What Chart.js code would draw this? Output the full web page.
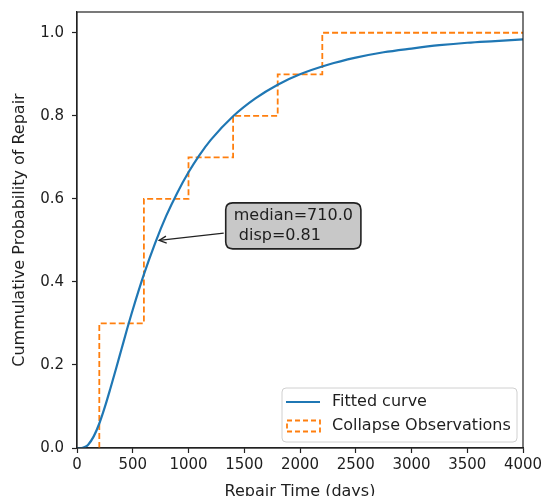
<!DOCTYPE html>
<html>
<head>
<meta charset="utf-8">
<script src="https://cdn.jsdelivr.net/npm/chart.js@4.4.0/dist/chart.umd.min.js"></script>
<style>
  html, body { margin: 0; padding: 0; background: #fff; }
  #wrap { width: 545px; height: 496px; }
</style>
</head>
<body>
<div id="wrap"><canvas id="c" width="545" height="496"></canvas></div>
<script>
// ---- data ----
const fitTimes = [0, 25, 50, 75, 100, 150, 200, 250, 300, 350, 400, 450, 500, 600, 700, 800, 900, 1000, 1100, 1200, 1400, 1600, 1800, 2000, 2250, 2500, 2750, 3000, 3250, 3500, 3750, 4000];
const fitProb  = [0, 0.000, 0.0005, 0.003, 0.008, 0.028, 0.059, 0.099, 0.144, 0.191, 0.239, 0.287, 0.333, 0.418, 0.493, 0.559, 0.615, 0.664, 0.706, 0.742, 0.799, 0.842, 0.875, 0.900, 0.923, 0.940, 0.953, 0.962, 0.970, 0.976, 0.980, 0.984];
const obsTimes = [200, 600, 1000, 1400, 1800, 2200];
const obsProb  = [0.3, 0.6, 0.7, 0.8, 0.9, 1.0];
const xTicks = [0, 500, 1000, 1500, 2000, 2500, 3000, 3500, 4000];
const yTicks = [0.0, 0.2, 0.4, 0.6, 0.8, 1.0];
const seriesLabels = ['Fitted curve', 'Collapse Observations'];
const annoLines = ['median=710.0', ' disp=0.81'];
const annoPoint = [710, 0.5];
const annoTextAt = [1940, 0.535];
const xMax = 4000, yMax = 1.05;

// ---- build datasets ----
const fitData = fitTimes.map((t, i) => ({ x: t, y: fitProb[i] }));
const obsData = [];
let prev = 0;
obsTimes.forEach((t, i) => {
  obsData.push({ x: t, y: prev });
  obsData.push({ x: t, y: obsProb[i] });
  prev = obsProb[i];
});
obsData.push({ x: xMax, y: prev });

const BLUE = '#1f77b4', ORANGE = '#ff7f0e', TXT = '#1e1e1e';
const FONT = '"DejaVu Sans", sans-serif';

const bgPlugin = {
  id: 'bg',
  beforeDraw(chart) {
    const ctx = chart.ctx;
    ctx.save(); ctx.fillStyle = '#fff'; ctx.fillRect(0, 0, chart.width, chart.height); ctx.restore();
  }
};

function roundRect(ctx, x, y, w, h, r) {
  ctx.beginPath();
  ctx.moveTo(x + r, y);
  ctx.lineTo(x + w - r, y); ctx.quadraticCurveTo(x + w, y, x + w, y + r);
  ctx.lineTo(x + w, y + h - r); ctx.quadraticCurveTo(x + w, y + h, x + w - r, y + h);
  ctx.lineTo(x + r, y + h); ctx.quadraticCurveTo(x, y + h, x, y + h - r);
  ctx.lineTo(x, y + r); ctx.quadraticCurveTo(x, y, x + r, y);
  ctx.closePath();
}

const overlayPlugin = {
  id: 'overlay',
  afterDraw(chart) {
    const ctx = chart.ctx;
    const a = chart.chartArea;
    const xs = chart.scales.x, ys = chart.scales.y;
    ctx.save();
    // spines
    ctx.strokeStyle = '#222'; ctx.lineWidth = 1.2;
    ctx.strokeRect(a.left, a.top, a.right - a.left, a.bottom - a.top);

    // annotation
    ctx.font = '16px ' + FONT;
    const cx = xs.getPixelForValue(annoTextAt[0]);
    const cy = ys.getPixelForValue(annoTextAt[1]);
    const lh = 20;
    const tw = Math.max(...annoLines.map(l => ctx.measureText(l).width));
    const bw = tw + 16, bh = lh * annoLines.length + 6;
    const bx = cx - bw / 2, by = cy - bh / 2;
    const px = xs.getPixelForValue(annoPoint[0]);
    const py = ys.getPixelForValue(annoPoint[1]);
    // arrow from box edge to point
    const sx = bx - 2;
    const sy = cy + (py - cy) * (cx - sx) / (cx - px);
    ctx.strokeStyle = '#222'; ctx.lineWidth = 1.3;
    ctx.beginPath(); ctx.moveTo(sx, sy); ctx.lineTo(px + 3, py); ctx.stroke();
    const ang = Math.atan2(py - sy, px + 3 - sx);
    const hl = 8, hw = 0.45;
    ctx.beginPath();
    ctx.moveTo(px + 3 - hl * Math.cos(ang - hw), py - hl * Math.sin(ang - hw));
    ctx.lineTo(px + 3, py);
    ctx.lineTo(px + 3 - hl * Math.cos(ang + hw), py - hl * Math.sin(ang + hw));
    ctx.stroke();
    // box
    roundRect(ctx, bx, by, bw, bh, 7);
    ctx.fillStyle = '#c8c8c8'; ctx.fill();
    ctx.strokeStyle = '#222'; ctx.lineWidth = 1.6; ctx.stroke();
    ctx.fillStyle = TXT; ctx.textAlign = 'left'; ctx.textBaseline = 'middle';
    annoLines.forEach((l, i) => ctx.fillText(l, bx + 8, by + 3 + lh * (i + 0.5)));

    // legend
    ctx.font = '16px ' + FONT;
    const lw = 235, lhh = 54;
    const lx = a.right - 6 - lw, ly = a.bottom - 6 - lhh;
    roundRect(ctx, lx, ly, lw, lhh, 4);
    ctx.fillStyle = 'rgba(255,255,255,0.85)'; ctx.fill();
    ctx.strokeStyle = '#d0d0d0'; ctx.lineWidth = 1; ctx.stroke();
    const r1 = ly + 14, r2 = ly + 38;
    ctx.strokeStyle = BLUE; ctx.lineWidth = 2.2;
    ctx.beginPath(); ctx.moveTo(lx + 4, r1); ctx.lineTo(lx + 38, r1); ctx.stroke();
    ctx.strokeStyle = ORANGE; ctx.lineWidth = 1.8; ctx.setLineDash([5, 3]);
    ctx.strokeRect(lx + 5, r2 - 5.5, 33, 11);
    ctx.setLineDash([]);
    ctx.fillStyle = TXT; ctx.textAlign = 'left'; ctx.textBaseline = 'middle';
    ctx.fillText(seriesLabels[0], lx + 50, r1);
    ctx.fillText(seriesLabels[1], lx + 50, r2);
    ctx.restore();
  }
};

new Chart(document.getElementById('c'), {
  type: 'line',
  data: {
    datasets: [
      { label: seriesLabels[0], data: fitData, borderColor: BLUE, borderWidth: 2.2, pointRadius: 0,
        cubicInterpolationMode: 'monotone', fill: false, order: 1 },
      { label: seriesLabels[1], data: obsData, borderColor: ORANGE, borderWidth: 1.8, pointRadius: 0,
        borderDash: [6, 3], tension: 0, fill: false, order: 2 }
    ]
  },
  options: {
    responsive: false,
    animation: false,
    devicePixelRatio: 1,
    layout: { padding: { top: 12, right: 22, left: 0, bottom: 0 } },
    plugins: { legend: { display: false }, tooltip: { enabled: false } },
    scales: {
      x: {
        type: 'linear', min: 0, max: xMax,
        afterBuildTicks(s) { s.ticks = xTicks.map(v => ({ value: v })); },
        afterFit(s) { s.height = 48; s.paddingLeft = 0; s.paddingRight = 0; },
        ticks: { font: { family: FONT, size: 15 }, color: TXT, padding: 3, maxRotation: 0,
                 callback: v => String(v) },
        grid: { drawOnChartArea: false, drawTicks: true, tickLength: 5, color: '#222', tickWidth: 1.2 },
        border: { display: true, color: '#222', width: 1.2 },
        title: { display: true, text: 'Repair Time (days)', font: { family: FONT, size: 16 }, color: TXT,
                 padding: { top: 0, bottom: -5 } }
      },
      y: {
        type: 'linear', min: 0, max: yMax,
        afterBuildTicks(s) { s.ticks = yTicks.map(v => ({ value: v })); },
        afterFit(s) { s.width = 77; s.paddingTop = 0; s.paddingBottom = 0; },
        ticks: { font: { family: FONT, size: 15 }, color: TXT, padding: 8,
                 callback: v => Number(v).toFixed(1) },
        grid: { drawOnChartArea: false, drawTicks: true, tickLength: 5, color: '#222', tickWidth: 1.2 },
        border: { display: true, color: '#222', width: 1.2 },
        title: { display: true, text: 'Cummulative Probability of Repair', font: { family: FONT, size: 16 }, color: TXT,
                 padding: { top: 10, bottom: 0 } }
      }
    }
  },
  plugins: [bgPlugin, overlayPlugin]
});
</script>
</body>
</html>
